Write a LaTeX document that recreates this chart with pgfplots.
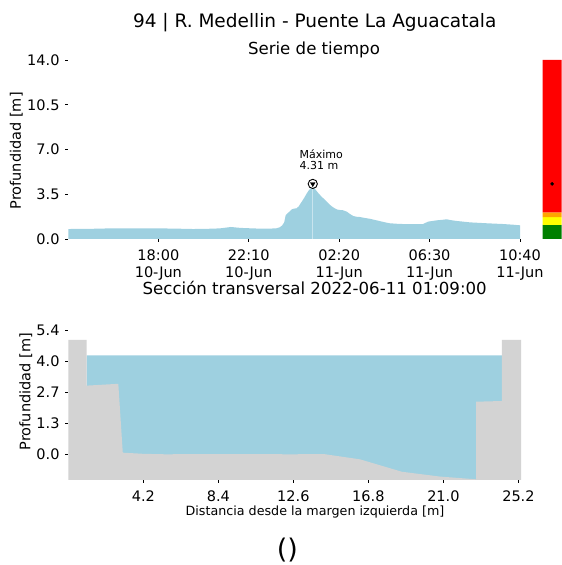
\documentclass[border=0pt]{standalone}
\usepackage{pgfplots}
\pgfplotsset{compat=1.18}
\usepackage{pgfplotstable}
\usepackage{fontspec}
\setmainfont{DejaVu Sans}
\definecolor{water}{RGB}{158,208,224}
\definecolor{ground}{RGB}{211,211,211}
\definecolor{cborange}{RGB}{255,165,0}
\definecolor{cbgreen}{RGB}{0,128,0}
\definecolor{cbyellow}{RGB}{255,255,0}
\definecolor{hiline}{RGB}{200,228,238}

% time series: minutes since 10-Jun 00:00, depth [m]
\pgfplotstableread{
t d
831 0.78
900 0.80
946 0.83
1000 0.84
1084 0.83
1130 0.81
1176 0.78
1220 0.80
1250 0.83
1270 0.90
1280 0.94
1306 0.87
1340 0.83
1361 0.81
1395 0.82
1407 0.84
1416 0.92
1422 1.05
1428 1.30
1432 1.85
1437 2.00
1444 2.18
1449 2.32
1456 2.38
1462 2.40
1468 2.55
1476 2.90
1483 3.20
1490 3.55
1496 3.80
1501 3.95
1507 4.31
1513 3.92
1522 3.60
1530 3.35
1541 3.05
1548 2.85
1555 2.66
1562 2.50
1568 2.40
1575 2.30
1582 2.27
1590 2.25
1601 2.14
1610 1.95
1619 1.80
1628 1.74
1637 1.72
1650 1.65
1665 1.58
1685 1.45
1707 1.30
1720 1.23
1740 1.19
1757 1.17
1790 1.16
1812 1.17
1820 1.28
1826 1.36
1850 1.46
1865 1.50
1877 1.54
1890 1.47
1905 1.41
1942 1.30
1988 1.23
2034 1.17
2060 1.12
2080 1.07
}\serie

% cross-section ground profile
\pgfplotstableread{
x y
0 -1.12
0 4.98
1.03 4.98
1.03 2.99
2.80 3.07
3.05 0.07
4.20 0.02
5.41 0.00
8.40 0.01
12.60 0.00
14.30 0.01
16.33 -0.22
18.67 -0.76
20.80 -0.97
22.83 -1.09
22.83 2.29
24.28 2.32
24.28 4.98
25.35 4.98
25.35 -1.12
0 -1.12
}\ground

\pgfplotstableread{
x y
1.03 -1.12
1.03 4.31
24.28 4.31
24.28 -1.12
1.03 -1.12
}\waterbox

\begin{document}
\begin{tikzpicture}[x=1pt,y=1pt]
\useasboundingbox (0,0) rectangle (562,565);

\pgfplotsset{
  myaxis/.style={
    scale only axis, anchor=south west, clip=false,
    axis line style={draw=none},
    tick align=outside, tick pos=left,
    major tick length=3pt,
    tick style={black, line width=0.7pt},
    ticklabel style={font=\fontsize{14.5}{17}\selectfont},
    yticklabel style={anchor=east, inner sep=0pt, xshift=-5.6pt},
    xticklabel style={anchor=north, inner sep=0pt, yshift=-7.7pt},
  }
}

% ---------- time series ----------
\begin{axis}[myaxis,
  at={(68.3pt,326pt)}, width=451.7pt, height=179pt,
  xmin=831, xmax=2080, ymin=0, ymax=14,
  xtick={1080,1330,1580,1830,2080},
  xticklabels={{18:00\\10-Jun},{22:10\\10-Jun},{02:20\\11-Jun},{06:30\\11-Jun},{10:40\\11-Jun}},
  xticklabel style={align=center},
  ytick={0,3.5,7,10.5,14},
  yticklabels={0.0,3.5,7.0,10.5,14.0},
]
\addplot[fill=water, draw=none] table[x=t,y=d]{\serie} \closedcycle;
\addplot[hiline, line width=1.3pt] coordinates {(1507,0) (1507,3.95)};
\addplot[only marks, mark=*, mark size=4.6pt, mark options={fill=white, draw=black, line width=0.9pt}] coordinates {(1507,4.31)};
\addplot[only marks, mark=triangle*, mark size=2.7pt, mark options={rotate=180, fill=black, draw=black}] coordinates {(1507,4.31)};
\node[anchor=base west, inner sep=0pt, font=\fontsize{11}{13}\selectfont] at (axis cs:1470,6.31) {Máximo};
\node[anchor=base west, inner sep=0pt, font=\fontsize{11}{13}\selectfont] at (axis cs:1470,5.40) {4.31 m};
\end{axis}

% ---------- colour bar ----------
\begin{axis}[scale only axis, anchor=south west,
  at={(542.7pt,326pt)}, width=19pt, height=179pt,
  xmin=0, xmax=1, ymin=0, ymax=14,
  axis line style={draw=none}, ticks=none]
\addplot[fill=cbgreen, draw=none] coordinates {(0,0) (1,0) (1,1.10) (0,1.10) (0,0)};
\addplot[fill=cbyellow, draw=none] coordinates {(0,1.10) (1,1.10) (1,1.72) (0,1.72) (0,1.10)};
\addplot[fill=cborange, draw=none] coordinates {(0,1.72) (1,1.72) (1,2.09) (0,2.09) (0,1.72)};
\addplot[fill=red, draw=none] coordinates {(0,2.09) (1,2.09) (1,14) (0,14) (0,2.09)};
\addplot[only marks, mark=*, mark size=1.6pt, black] coordinates {(0.5,4.31)};
\end{axis}

% ---------- cross section ----------
\begin{axis}[myaxis,
  at={(68.3pt,85pt)}, width=452.8pt, height=177.25pt,
  xmin=0, xmax=25.35, ymin=-1.12, ymax=6.6,
  xtick={4.2,8.4,12.6,16.8,21.0,25.2},
  xticklabels={4.2,8.4,12.6,16.8,21.0,25.2},
  ytick={0,1.35,2.7,4.05,5.4},
  yticklabels={0.0,1.3,2.7,4.0,5.4},
]
\addplot[fill=water, draw=none] table[x=x,y=y]{\waterbox};
\addplot[fill=ground, draw=none] table[x=x,y=y]{\ground};
\end{axis}

% ---------- texts ----------
\node[anchor=base, inner sep=0pt, font=\fontsize{18.5}{22}\selectfont] at (314.7,537.7) {94 | R. Medellin - Puente La Aguacatala};
\node[anchor=base, inner sep=0pt, font=\fontsize{16.6}{20}\selectfont] at (314,510.7) {Serie de tiempo};
\node[anchor=base, inner sep=0pt, font=\fontsize{16.6}{20}\selectfont] at (314.7,270.7) {Sección transversal 2022-06-11 01:09:00};
\node[anchor=base, inner sep=0pt, font=\fontsize{12.7}{15}\selectfont] at (315,49) {Distancia desde la margen izquierda [m]};
\node[rotate=90, inner sep=0pt, font=\fontsize{14.5}{17}\selectfont] at (16.3,414.2) {Profundidad [m]};
\node[rotate=90, inner sep=0pt, font=\fontsize{14.5}{17}\selectfont] at (25.8,173.3) {Profundidad [m]};
\node[anchor=base, inner sep=0pt, font=\fontsize{27}{31}\selectfont] at (287.3,6.5) {()};
\end{tikzpicture}
\end{document}
